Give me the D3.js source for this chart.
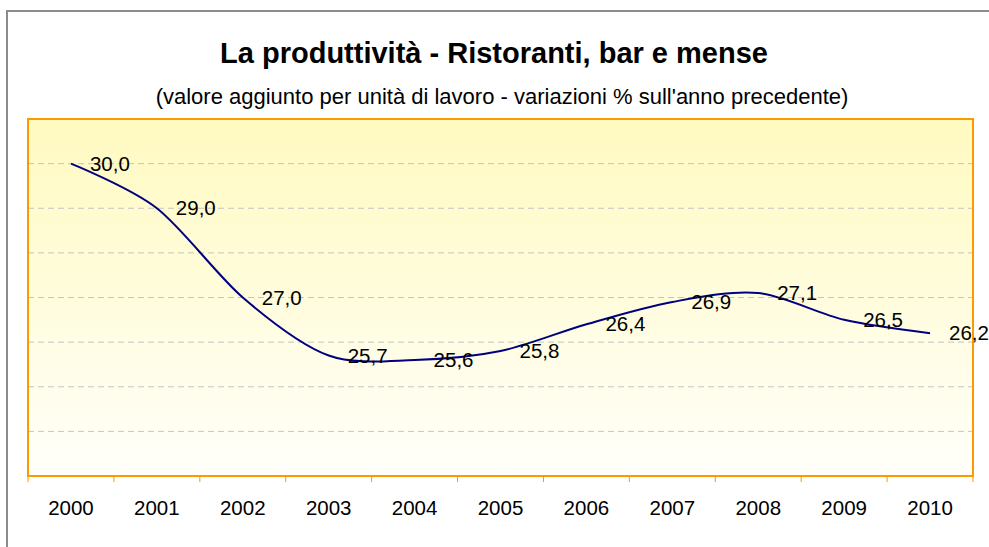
<!DOCTYPE html>
<html>
<head>
<meta charset="utf-8">
<script src="https://cdn.jsdelivr.net/npm/d3@7"></script>
<style>
  body { margin: 0; background: #fff; }
  text { font-family: Arial, "Liberation Sans", sans-serif; }
</style>
</head>
<body>
<div id="chart-area"></div>
<script>
// data
const years = ["2000", "2001", "2002", "2003", "2004", "2005", "2006", "2007", "2008", "2009", "2010"]
const values = [30.0, 29.0, 27.0, 25.7, 25.6, 25.8, 26.4, 26.9, 27.1, 26.5, 26.2]
const gridValues = [24, 25, 26, 27, 28, 29, 30]

const W = 989
const H = 547

// plot area
const PLOT = { LEFT: 28, RIGHT: 973, TOP: 119, BOTTOM: 476 }

const svg = d3.select("#chart-area").append("svg")
    .attr("width", W)
    .attr("height", H)

// outer chart frame (cut off on the right/bottom)
svg.append("rect")
    .attr("x", 7).attr("y", 11)
    .attr("width", 1000).attr("height", 600)
    .attr("fill", "#fff")
    .attr("stroke", "#8c8c8c")
    .attr("stroke-width", 2)

// titles
svg.append("text")
    .attr("x", 494).attr("y", 63)
    .attr("text-anchor", "middle")
    .attr("font-size", "29px")
    .attr("font-weight", "bold")
    .text("La produttività - Ristoranti, bar e mense")

svg.append("text")
    .attr("x", 502).attr("y", 104)
    .attr("text-anchor", "middle")
    .attr("font-size", "22px")
    .text("(valore aggiunto per unità di lavoro - variazioni % sull'anno precedente)")

// background gradient
const grad = svg.append("defs").append("linearGradient")
    .attr("id", "bg")
    .attr("x1", 0).attr("y1", 0).attr("x2", 0).attr("y2", 1)
grad.append("stop").attr("offset", "0%").attr("stop-color", "#fffac0")
grad.append("stop").attr("offset", "100%").attr("stop-color", "#fffffa")

svg.append("rect")
    .attr("x", PLOT.LEFT).attr("y", PLOT.TOP)
    .attr("width", PLOT.RIGHT - PLOT.LEFT)
    .attr("height", PLOT.BOTTOM - PLOT.TOP)
    .attr("fill", "url(#bg)")

// scales
const x = d3.scaleBand()
    .domain(years)
    .range([PLOT.LEFT, PLOT.RIGHT])

const y = d3.scaleLinear()
    .domain([23, 31])
    .range([PLOT.BOTTOM, PLOT.TOP])

// dashed gridlines
svg.append("g")
    .selectAll("line")
    .data(gridValues)
    .enter().append("line")
    .attr("x1", PLOT.LEFT).attr("x2", PLOT.RIGHT)
    .attr("y1", d => y(d)).attr("y2", d => y(d))
    .attr("stroke", "#c4c4c4")
    .attr("stroke-width", 1)
    .attr("stroke-dasharray", "6,4")

// plot border
svg.append("rect")
    .attr("x", PLOT.LEFT).attr("y", PLOT.TOP)
    .attr("width", PLOT.RIGHT - PLOT.LEFT)
    .attr("height", PLOT.BOTTOM - PLOT.TOP)
    .attr("fill", "none")
    .attr("stroke", "#ff9900")
    .attr("stroke-width", 2)

// x axis: ticks between categories, labels centered
const xAxis = svg.append("g")
    .attr("transform", `translate(0, ${PLOT.BOTTOM})`)

xAxis.selectAll("line")
    .data(years.concat(["end"]))
    .enter().append("line")
    .attr("x1", (d, i) => PLOT.LEFT + i * x.step())
    .attr("x2", (d, i) => PLOT.LEFT + i * x.step())
    .attr("y1", 0).attr("y2", 6)
    .attr("stroke", "#ff9900")
    .attr("stroke-width", 1)

xAxis.selectAll("text")
    .data(years)
    .enter().append("text")
    .attr("x", d => x(d) + x.bandwidth() / 2)
    .attr("y", 39)
    .attr("text-anchor", "middle")
    .attr("font-size", "20.5px")
    .text(d => d)

// smoothed line
const line = d3.line()
    .x((d, i) => x(years[i]) + x.bandwidth() / 2)
    .y(d => y(d))
    .curve(d3.curveCardinal.tension(0.1))

svg.append("path")
    .datum(values)
    .attr("d", line)
    .attr("fill", "none")
    .attr("stroke", "#000080")
    .attr("stroke-width", 2)

// data labels to the right of each point
svg.append("g")
    .selectAll("text")
    .data(values)
    .enter().append("text")
    .attr("x", (d, i) => x(years[i]) + x.bandwidth() / 2 + 19)
    .attr("y", d => y(d))
    .attr("dy", "0.35em")
    .attr("font-size", "20.5px")
    .text(d => d.toFixed(1).replace(".", ","))
</script>
</body>
</html>
